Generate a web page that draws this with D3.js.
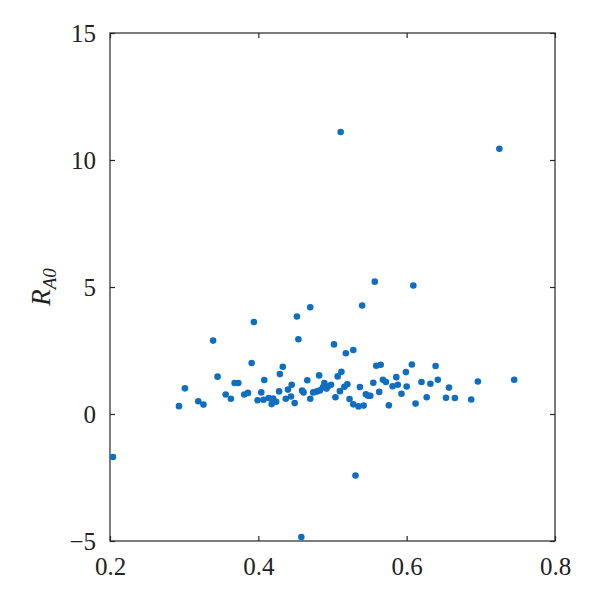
<!DOCTYPE html>
<html><head><meta charset="utf-8">
<script src="https://cdn.jsdelivr.net/npm/d3@7"></script>
<style>body{margin:0;background:#fff}svg{display:block}</style>
</head><body>
<script>
const xValues = [0.204,0.293,0.301,0.319,0.326,0.339,0.345,0.356,0.363,0.368,0.373,0.381,0.386,0.391,0.394,0.399,0.404,0.407,0.408,0.414,0.420,0.424,0.418,0.428,0.429,0.433,0.437,0.440,0.444,0.445,0.449,0.452,0.454,0.459,0.461,0.466,0.470,0.470,0.482,0.474,0.479,0.483,0.487,0.489,0.494,0.498,0.492,0.502,0.504,0.507,0.510,0.512,0.511,0.516,0.518,0.520,0.523,0.528,0.528,0.531,0.535,0.537,0.540,0.542,0.545,0.548,0.551,0.555,0.557,0.559,0.563,0.565,0.568,0.572,0.576,0.581,0.586,0.588,0.593,0.600,0.599,0.607,0.609,0.612,0.620,0.627,0.632,0.639,0.642,0.653,0.657,0.665,0.687,0.696,0.725,0.745,0.458];
const yValues = [-1.69,0.31,1.01,0.50,0.37,2.89,1.47,0.77,0.60,1.22,1.22,0.77,0.83,2.01,3.62,0.54,0.85,0.56,1.34,0.63,0.61,0.48,0.39,0.89,1.57,1.86,0.60,0.96,0.69,1.15,0.43,3.84,2.94,0.92,0.85,1.33,0.60,4.20,1.52,0.85,0.89,0.93,1.05,1.22,1.09,1.15,1.00,2.74,0.66,1.48,0.90,1.66,11.10,1.07,2.39,1.17,0.59,2.52,0.38,-2.42,0.30,1.06,4.27,0.33,0.78,0.72,0.72,1.23,5.21,1.90,0.87,1.94,1.35,1.26,0.34,1.09,1.45,1.15,0.80,1.08,1.65,1.95,5.06,0.41,1.26,0.66,1.19,1.89,1.35,0.64,1.04,0.63,0.57,1.28,10.44,1.35,-4.84];
const xTicks = [0.2,0.4,0.6,0.8];
const yTicks = [-5,0,5,10,15];
const xTickLabels = ["0.2","0.4","0.6","0.8"];
const yTickLabels = ["\u22125","0","5","10","15"];

const W = 600, H = 597;
const L = 110, R = 555, T = 33, B = 541;
const svg = d3.select("body").append("svg").attr("width", W).attr("height", H);
const x = d3.scaleLinear().domain([0.2, 0.8]).range([L, R]);
const y = d3.scaleLinear().domain([-5, 15]).range([B, T]);
const font = "'Liberation Serif','DejaVu Serif',serif";
const axisColor = "#262626";

// frame
svg.append("rect").attr("x", L).attr("y", T).attr("width", R - L).attr("height", B - T)
  .attr("fill", "none").attr("stroke", axisColor).attr("stroke-width", 1.2);

// ticks (inside, mirrored)
const tl = 5;
const gx = svg.append("g").attr("transform", `translate(0,${B})`)
  .call(d3.axisBottom(x).tickValues(xTicks).tickSizeInner(-tl).tickSizeOuter(0).tickPadding(16)
    .tickFormat((d, i) => xTickLabels[i]));
const gxt = svg.append("g").attr("transform", `translate(0,${T})`)
  .call(d3.axisTop(x).tickValues(xTicks).tickSizeInner(-tl).tickSizeOuter(0).tickFormat(""));
const gy = svg.append("g").attr("transform", `translate(${L},0)`)
  .call(d3.axisLeft(y).tickValues(yTicks).tickSizeInner(-tl).tickSizeOuter(0).tickPadding(14)
    .tickFormat((d, i) => yTickLabels[i]));
const gyr = svg.append("g").attr("transform", `translate(${R},0)`)
  .call(d3.axisRight(y).tickValues(yTicks).tickSizeInner(-tl).tickSizeOuter(0).tickFormat(""));
[gx, gxt, gy, gyr].forEach(g => {
  g.select(".domain").remove();
  g.selectAll("line").attr("stroke", axisColor).attr("stroke-width", 1.2);
  g.selectAll("text").attr("fill", "#222").style("font-family", font).style("font-size", "25px");
});

// y label
const yl = svg.append("text").attr("transform", "translate(50,287) rotate(-90)")
  .attr("text-anchor", "middle").style("font-family", font).style("font-size", "27px")
  .attr("fill", "#222");
yl.append("tspan").style("font-style", "italic").text("R");
yl.append("tspan").attr("dy", 6).style("font-style", "italic").style("font-size", "19px").text("A0");

// points
const pts = xValues.map((v, i) => ({x: v, y: yValues[i]}));
svg.append("g").selectAll("circle").data(pts).join("circle")
  .attr("cx", d => x(d.x)).attr("cy", d => y(d.y)).attr("r", 3.3)
  .attr("fill", "#0f6ebf");
</script>
</body></html>
